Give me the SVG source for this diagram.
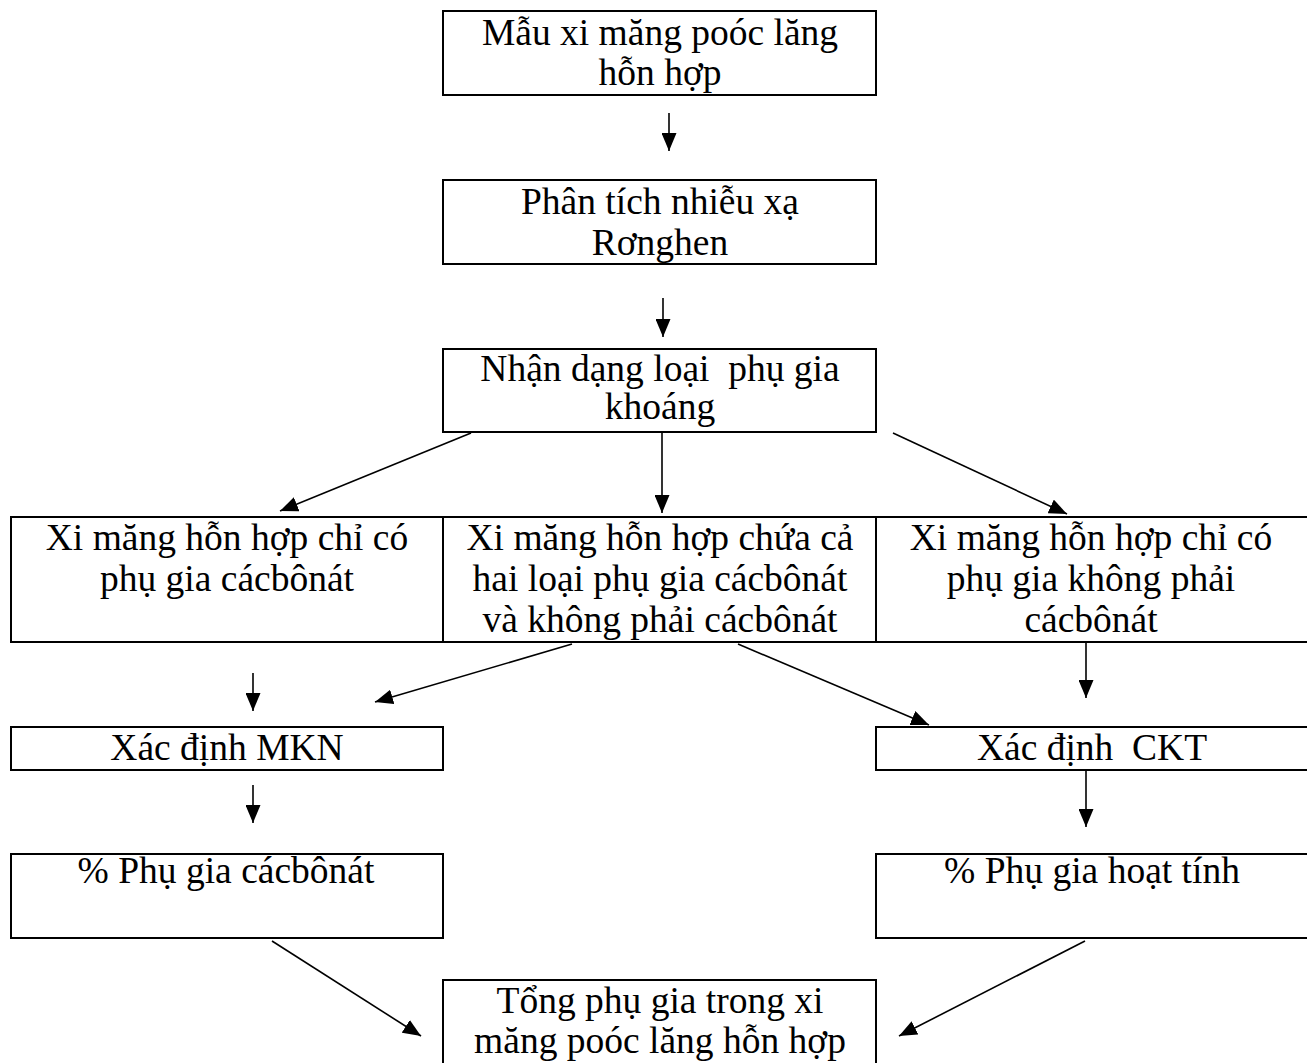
<svg xmlns="http://www.w3.org/2000/svg" width="1307" height="1063" viewBox="0 0 1307 1063">
<defs>
<style>
.box{fill:#fff;stroke:#000;stroke-width:2}
.t{font-family:"Liberation Serif","Times New Roman",serif;font-size:37.5px;fill:#000;text-anchor:middle}
.c{stroke:#000;stroke-width:1.6;fill:none;marker-end:url(#ah)}
</style>
<marker id="ah" markerUnits="userSpaceOnUse" viewBox="0 0 18 15" refX="18" refY="7.5" markerWidth="18" markerHeight="15" orient="auto">
<path d="M0,0 L18,7.5 L0,15 z" fill="#000"/>
</marker>
</defs>
<rect width="1307" height="1063" fill="#fff"/>

<g id="connectors">
<line class="c" x1="669" y1="113" x2="669" y2="151"/>
<line class="c" x1="663" y1="298" x2="663" y2="337"/>
<line class="c" x1="471" y1="433" x2="280" y2="511"/>
<line class="c" x1="662" y1="433" x2="662" y2="513"/>
<line class="c" x1="893" y1="433" x2="1067" y2="514"/>
<line class="c" x1="253" y1="673" x2="253" y2="711"/>
<line class="c" x1="572" y1="644" x2="375" y2="702"/>
<line class="c" x1="738" y1="644" x2="929" y2="725"/>
<line class="c" x1="1086" y1="643" x2="1086" y2="698"/>
<line class="c" x1="253" y1="785" x2="253" y2="823"/>
<line class="c" x1="1086" y1="770" x2="1086" y2="827"/>
<line class="c" x1="272" y1="941" x2="421" y2="1036"/>
<line class="c" x1="1085" y1="941" x2="899" y2="1036"/>
</g>

<g id="n1">
<rect class="box" x="443" y="11" width="433" height="84"/>
<text class="t" x="660" y="45">Mẫu xi măng poóc lăng</text>
<text class="t" x="660" y="85">hỗn hợp</text>
</g>

<g id="n2">
<rect class="box" x="443" y="180" width="433" height="84"/>
<text class="t" x="660" y="214">Phân tích nhiễu xạ</text>
<text class="t" x="660" y="255">Rơnghen</text>
</g>

<g id="n3">
<rect class="box" x="443" y="349" width="433" height="83"/>
<text class="t" xml:space="preserve" x="660" y="381">Nhận dạng loại  phụ gia</text>
<text class="t" x="660" y="419">khoáng</text>
</g>

<g id="n4">
<rect class="box" x="11" y="517" width="432" height="125"/>
<text class="t" x="227" y="550">Xi măng hỗn hợp chỉ có</text>
<text class="t" x="227" y="591">phụ gia cácbônát</text>
</g>

<g id="n5">
<rect class="box" x="443" y="517" width="433" height="125"/>
<text class="t" x="660" y="550">Xi măng hỗn hợp chứa cả</text>
<text class="t" x="660" y="591">hai loại phụ gia cácbônát</text>
<text class="t" x="660" y="632">và không phải cácbônát</text>
</g>

<g id="n6">
<rect class="box" x="876" y="517" width="436" height="125"/>
<text class="t" x="1091" y="550">Xi măng hỗn hợp chỉ có</text>
<text class="t" x="1091" y="591">phụ gia không phải</text>
<text class="t" x="1091" y="632">cácbônát</text>
</g>

<g id="n7">
<rect class="box" x="11" y="727" width="432" height="43"/>
<text class="t" x="227" y="760">Xác định MKN</text>
</g>

<g id="n8">
<rect class="box" x="876" y="727" width="436" height="43"/>
<text class="t" xml:space="preserve" x="1092" y="760">Xác định  CKT</text>
</g>

<g id="n9">
<rect class="box" x="11" y="854" width="432" height="84"/>
<text class="t" x="226" y="883">% Phụ gia cácbônát</text>
</g>

<g id="n10">
<rect class="box" x="876" y="854" width="436" height="84"/>
<text class="t" x="1092" y="883">% Phụ gia hoạt tính</text>
</g>

<g id="n11">
<rect class="box" x="443" y="980" width="433" height="100"/>
<text class="t" x="660" y="1013">Tổng phụ gia trong xi</text>
<text class="t" x="660" y="1053">măng poóc lăng hỗn hợp</text>
</g>
</svg>
